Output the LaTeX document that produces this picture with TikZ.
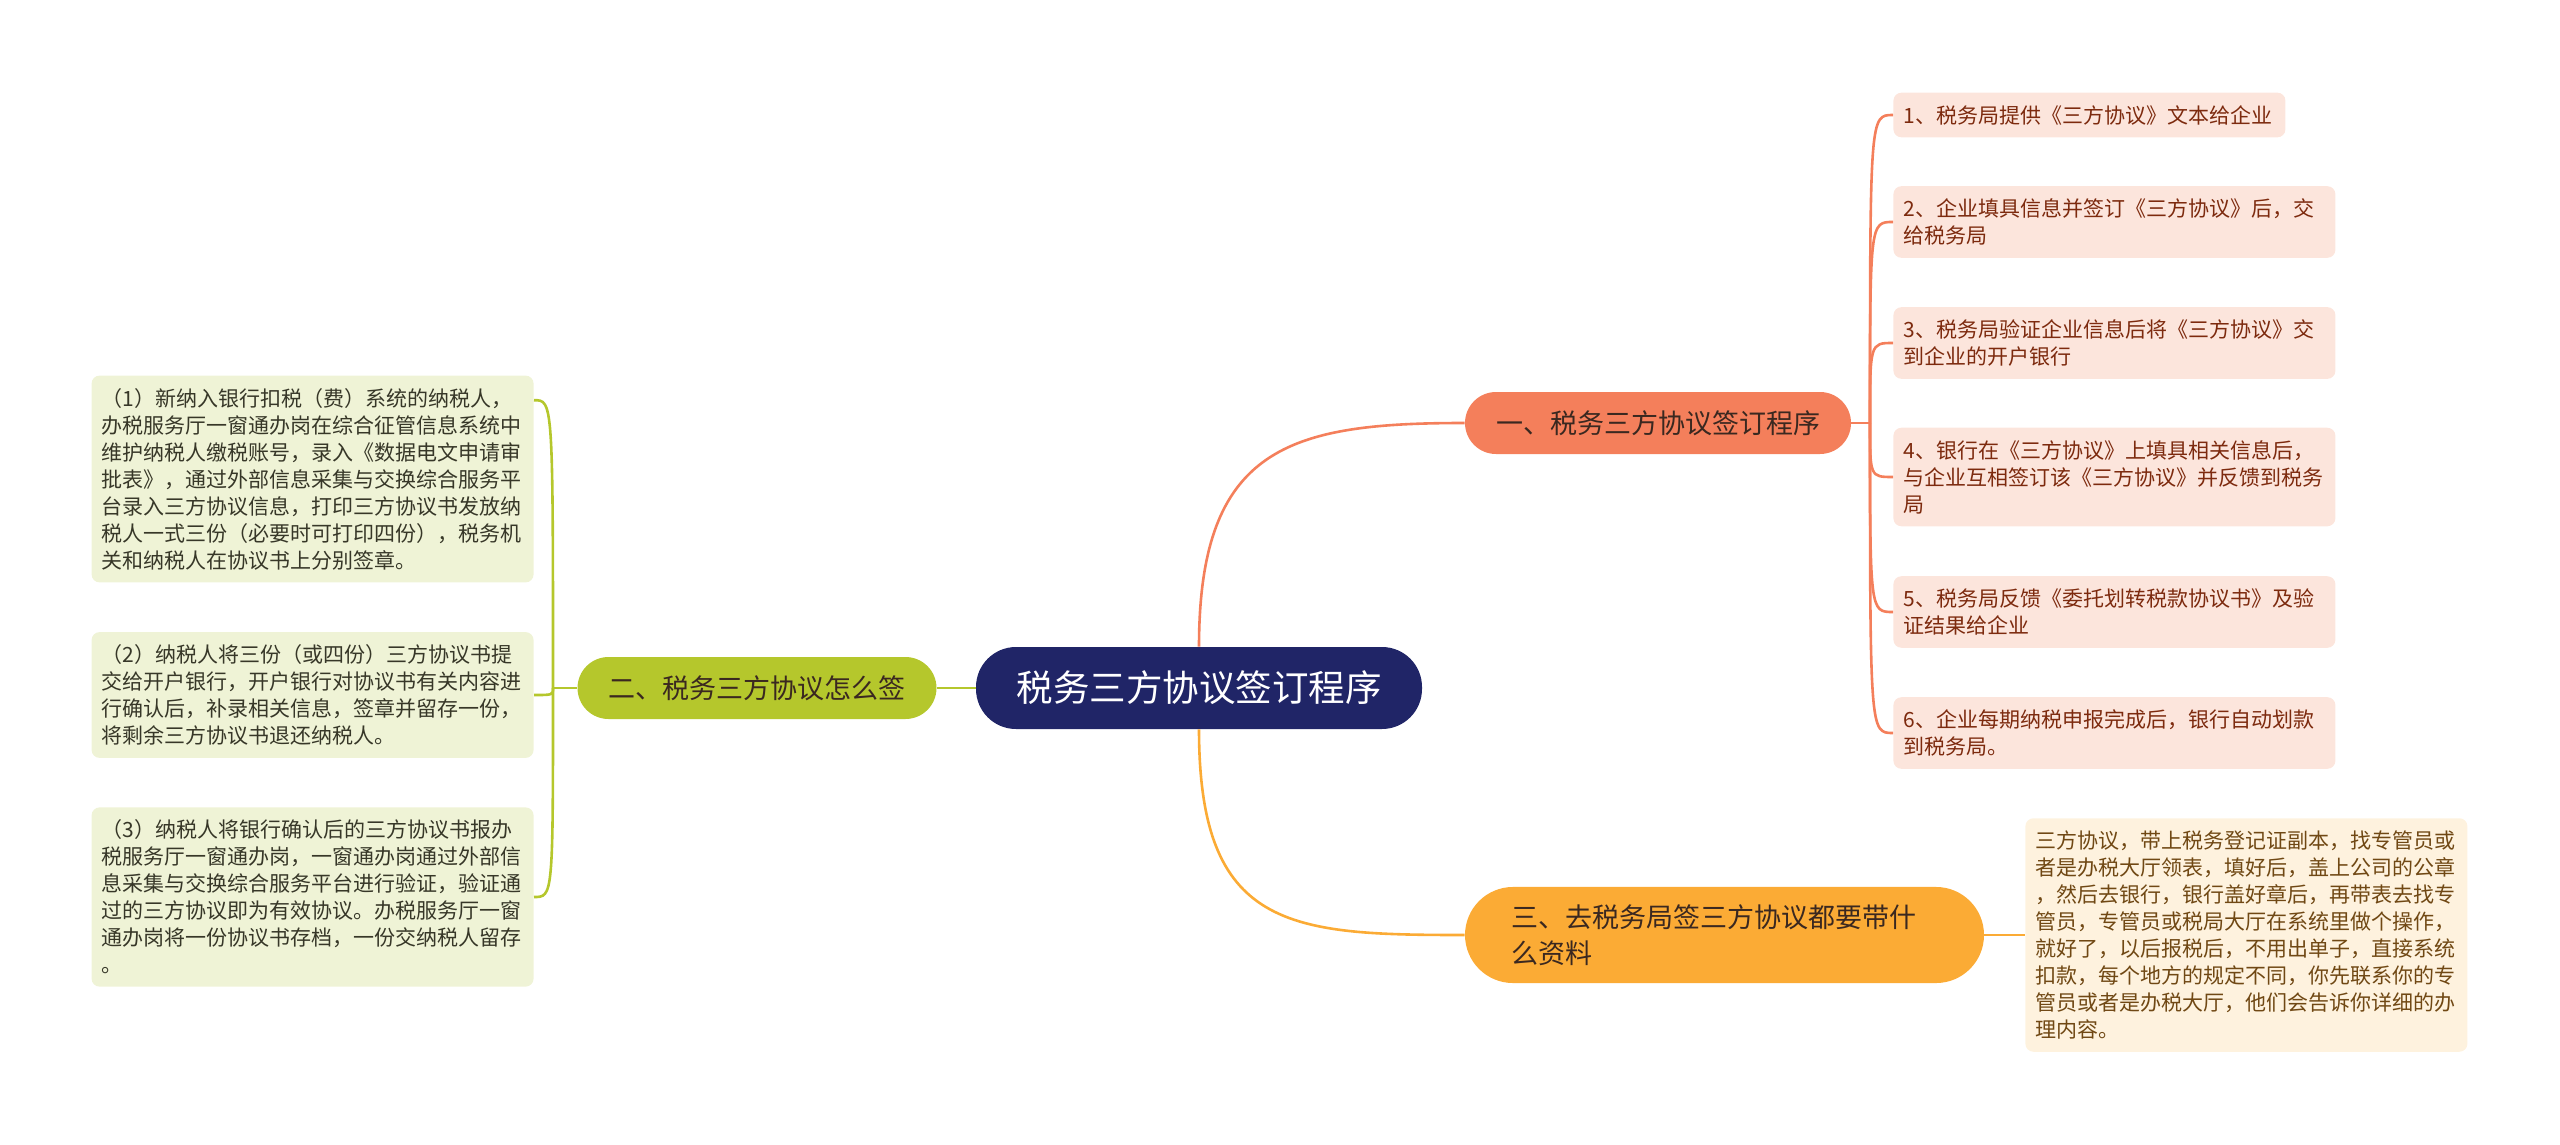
\documentclass[tikz,border=0pt]{standalone}
\usepackage{fontspec}
\setmainfont{Noto Sans CJK SC}
\usetikzlibrary{positioning}

\definecolor{topcol}{RGB}{32,37,103}
\definecolor{onecol}{RGB}{244,127,91}
\definecolor{twocol}{RGB}{181,199,44}
\definecolor{threecol}{RGB}{251,171,53}
\definecolor{pinkleaf}{RGB}{252,229,220}
\definecolor{greenleaf}{RGB}{239,243,214}
\definecolor{creamleaf}{RGB}{254,242,222}
\definecolor{pinktext}{RGB}{125,42,14}
\definecolor{greentext}{RGB}{55,55,40}
\definecolor{creamtext}{RGB}{112,72,20}
\definecolor{darktext}{RGB}{58,40,32}

\begin{document}
\begin{tikzpicture}[x=0.5pt,y=-0.5pt,
    topbox/.style={fill=topcol, text=white, rounded corners=20pt,
      minimum width=223pt, minimum height=41pt,
      font=\fontsize{18.25}{22}\selectfont},
    subbox/.style={rounded corners=15.5pt, minimum height=31pt, inner xsep=15.5pt,
      text=darktext, font=\fontsize{13.5}{18}\selectfont},
    leafbox/.style={rounded corners=4pt, text width=211pt, align=left,
      inner xsep=5pt, inner ysep=6.25pt, font=\fontsize{10.5}{13.5}\selectfont},
    link/.style={line width=1.3pt}]
  \useasboundingbox (0,0) rectangle (2560,1145);

  \node [topbox] at (1199,688) (t) {税务三方协议签订程序};
  \node [subbox, fill=onecol] at (1658,423) (s1) {一、税务三方协议签订程序};
  \node [subbox, fill=twocol] at (757,688) (s2) {二、税务三方协议怎么签};
  \node [subbox, fill=threecol, rounded corners=24pt, text width=213.5pt, align=left,
    inner xsep=23pt, inner ysep=8.75pt] at (1724.5,935) (s3)
    {三、去税务局签三方协议都要带什\\么资料};

  % right leaves
  \node [leafbox, fill=pinkleaf, text=pinktext, text width=186pt, anchor=west]
    at (1893,115) (a1) {1、税务局提供《三方协议》文本给企业};
  \node [leafbox, fill=pinkleaf, text=pinktext, anchor=west] at (1893,222) (a2)
    {2、企业填具信息并签订《三方协议》后，交\\给税务局};
  \node [leafbox, fill=pinkleaf, text=pinktext, anchor=west] at (1893,343) (a3)
    {3、税务局验证企业信息后将《三方协议》交\\到企业的开户银行};
  \node [leafbox, fill=pinkleaf, text=pinktext, anchor=west] at (1893,477) (a4)
    {4、银行在《三方协议》上填具相关信息后，\\与企业互相签订该《三方协议》并反馈到税务\\局};
  \node [leafbox, fill=pinkleaf, text=pinktext, anchor=west] at (1893,612) (a5)
    {5、税务局反馈《委托划转税款协议书》及验\\证结果给企业};
  \node [leafbox, fill=pinkleaf, text=pinktext, anchor=west] at (1893,733) (a6)
    {6、企业每期纳税申报完成后，银行自动划款\\到税务局。};

  % left leaves
  \node [leafbox, fill=greenleaf, text=greentext, anchor=east] at (534,479) (b1)
    {（1）新纳入银行扣税（费）系统的纳税人，\\办税服务厅一窗通办岗在综合征管信息系统中\\维护纳税人缴税账号，录入《数据电文申请审\\批表》，通过外部信息采集与交换综合服务平\\台录入三方协议信息，打印三方协议书发放纳\\税人一式三份（必要时可打印四份），税务机\\关和纳税人在协议书上分别签章。};
  \node [leafbox, fill=greenleaf, text=greentext, anchor=east] at (534,695) (b2)
    {（2）纳税人将三份（或四份）三方协议书提\\交给开户银行，开户银行对协议书有关内容进\\行确认后，补录相关信息，签章并留存一份，\\将剩余三方协议书退还纳税人。};
  \node [leafbox, fill=greenleaf, text=greentext, anchor=east] at (534,897) (b3)
    {（3）纳税人将银行确认后的三方协议书报办\\税服务厅一窗通办岗，一窗通办岗通过外部信\\息采集与交换综合服务平台进行验证，验证通\\过的三方协议即为有效协议。办税服务厅一窗\\通办岗将一份协议书存档，一份交纳税人留存\\。};

  \node [leafbox, fill=creamleaf, text=creamtext, anchor=west] at (2025,935) (c1)
    {三方协议，带上税务登记证副本，找专管员或\\者是办税大厅领表，填好后，盖上公司的公章\\，然后去银行，银行盖好章后，再带表去找专\\管员，专管员或税局大厅在系统里做个操作，\\就好了，以后报税后，不用出单子，直接系统\\扣款，每个地方的规定不同，你先联系你的专\\管员或者是办税大厅，他们会告诉你详细的办\\理内容。};

  \coordinate (jr) at (1870,423);
  \coordinate (jl) at (553,688);
  \coordinate (b1c) at ([yshift=-12.5pt]b1.north east);

  \draw [link, onecol] (t.north) .. controls +(0,-200) and +(-175,0) .. (s1.west);
  \draw [link, threecol] (t.south) .. controls +(0,200) and +(-175,0) .. (s3.west);
  \draw [link, twocol] (t.west) -- (s2.east);

  \draw [link, onecol] (s1.east) -- (jr);
  \foreach \n in {a1,a2,a3,a4,a5,a6}
    \draw [link, onecol] (jr) .. controls (jr |- \n.west) .. (\n.west);

  \draw [link, twocol] (s2.west) -- (jl);
  \draw [link, twocol] (jl) .. controls (jl |- b1c) .. (b1c);
  \draw [link, twocol] (jl) .. controls (jl |- b2.east) .. (b2.east);
  \draw [link, twocol] (jl) .. controls (jl |- b3.east) .. (b3.east);

  \draw [link, threecol] (s3.east) -- (c1.west);
\end{tikzpicture}
\end{document}
